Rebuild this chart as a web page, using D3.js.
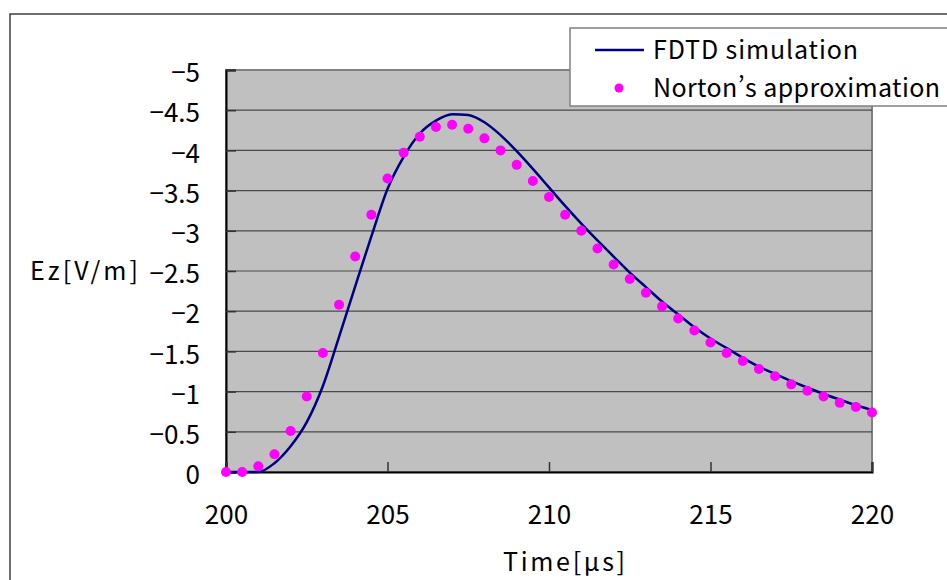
<!DOCTYPE html>
<html lang="ja">
<head>
<meta charset="UTF-8">
<script src="https://d3js.org/d3.v7.min.js"></script>
<title>Ez waveform</title>
<style>
  body { margin: 0; background: #fff; }
  text { font-family: "Noto Sans CJK JP", "Noto Sans", sans-serif; fill: #000; }
</style>
</head>
<body>
<script>
const width = 947, height = 580;

// time axis [µs]
const xTicks = [200, 205, 210, 215, 220];
const yTicks = [0, -0.5, -1, -1.5, -2, -2.5, -3, -3.5, -4, -4.5, -5];

// FDTD simulation (every 0.5 µs)
const fdtdTime = [200, 200.5, 201, 201.5, 202, 202.5, 203, 203.5, 204, 204.5,
  205, 205.5, 206, 206.5, 207, 207.5, 208, 208.5, 209, 209.5,
  210, 210.5, 211, 211.5, 212, 212.5, 213, 213.5, 214, 214.5,
  215, 215.5, 216, 216.5, 217, 217.5, 218, 218.5, 219, 219.5, 220];
const fdtdEz = [0, 0, 0, -0.11, -0.32, -0.62, -1.07, -1.68, -2.31, -2.93,
  -3.52, -3.92, -4.21, -4.37, -4.45, -4.44, -4.35, -4.19, -3.99, -3.77,
  -3.54, -3.31, -3.09, -2.88, -2.68, -2.48, -2.30, -2.12, -1.96, -1.80,
  -1.66, -1.54, -1.42, -1.31, -1.22, -1.13, -1.05, -0.97, -0.90, -0.83, -0.77];

// Norton's approximation
const nortonTime = fdtdTime;
const nortonEz = [0, 0, -0.07, -0.22, -0.51, -0.94, -1.48, -2.08, -2.68, -3.20,
  -3.65, -3.97, -4.17, -4.29, -4.32, -4.27, -4.15, -4.00, -3.82, -3.62,
  -3.42, -3.20, -3.00, -2.78, -2.58, -2.40, -2.23, -2.06, -1.91, -1.76,
  -1.61, -1.48, -1.38, -1.28, -1.19, -1.09, -1.01, -0.94, -0.86, -0.81, -0.74];

const seriesNames = ["FDTD simulation", "Norton\u2019s approximation"];

const plot = {left: 226, right: 872, top: 70, bottom: 472};

const svg = d3.select("body").append("svg")
    .attr("width", width).attr("height", height);

// outer chart frame
svg.append("rect")
    .attr("x", 10).attr("y", 14)
    .attr("width", width + 20).attr("height", height + 20)
    .attr("fill", "#fff").attr("stroke", "#404040").attr("stroke-width", 1.5);

const x = d3.scaleLinear().domain([200, 220]).range([plot.left, plot.right]);
const y = d3.scaleLinear().domain([0, -5]).range([plot.bottom, plot.top]);

// plot background
svg.append("rect")
    .attr("x", plot.left).attr("y", plot.top)
    .attr("width", plot.right - plot.left).attr("height", plot.bottom - plot.top)
    .attr("fill", "#c0c0c0").attr("stroke", "#808080").attr("stroke-width", 2);

// gridlines
svg.append("g").selectAll("line")
    .data(yTicks.filter(d => d !== 0 && d !== -5))
    .join("line")
    .attr("x1", plot.left).attr("x2", plot.right)
    .attr("y1", d => y(d)).attr("y2", d => y(d))
    .attr("stroke", "#4a4a4a").attr("stroke-width", 1.2);

const fmt = d => d3.format("")(d);

// y axis
const yAxis = svg.append("g")
    .attr("transform", `translate(${plot.left},0)`)
    .call(d3.axisLeft(y).tickValues(yTicks).tickSize(-10).tickPadding(26).tickFormat(fmt));
yAxis.select(".domain").attr("stroke", "#000").attr("stroke-width", 2);
yAxis.selectAll(".tick line").attr("stroke", "#333").attr("stroke-width", 1.5);
yAxis.selectAll(".tick text").attr("font-size", 26).attr("dy", "0.45em")
    .style("font-family", "'Noto Sans CJK JP', sans-serif");

// x axis
const xAxis = svg.append("g")
    .attr("transform", `translate(0,${plot.bottom})`)
    .call(d3.axisBottom(x).tickValues(xTicks).tickSize(-10).tickPadding(34).tickFormat(fmt));
xAxis.select(".domain").attr("stroke", "#000").attr("stroke-width", 2);
xAxis.selectAll(".tick line").attr("stroke", "#333").attr("stroke-width", 1.5);
xAxis.selectAll(".tick text").attr("font-size", 26)
    .style("font-family", "'Noto Sans CJK JP', sans-serif");

// FDTD line
const line = d3.line()
    .x((d, i) => x(fdtdTime[i]))
    .y(d => y(d))
    .curve(d3.curveMonotoneX);
svg.append("path")
    .datum(fdtdEz)
    .attr("d", line)
    .attr("fill", "none")
    .attr("stroke", "#000080")
    .attr("stroke-width", 2.5);

// Norton dots
svg.append("g").selectAll("circle")
    .data(nortonEz)
    .join("circle")
    .attr("cx", (d, i) => x(nortonTime[i]))
    .attr("cy", d => y(d))
    .attr("r", 5)
    .attr("fill", "#ff00ff");

// axis titles
svg.append("text")
    .attr("x", 30).attr("y", 280)
    .attr("font-size", 25)
    .attr("textLength", 108).attr("lengthAdjust", "spacing")
    .text("Ez[V/m]");

svg.append("text")
    .attr("x", 503).attr("y", 571)
    .attr("font-size", 25)
    .attr("textLength", 122).attr("lengthAdjust", "spacing")
    .text("Time[\u03bcs]");

// legend
const legend = svg.append("g");
legend.append("rect")
    .attr("x", 570).attr("y", 28)
    .attr("width", 400).attr("height", 78)
    .attr("fill", "#fff").attr("stroke", "#808080").attr("stroke-width", 1.5);
legend.append("line")
    .attr("x1", 595).attr("x2", 644)
    .attr("y1", 50).attr("y2", 50)
    .attr("stroke", "#000080").attr("stroke-width", 2.5);
legend.append("circle")
    .attr("cx", 619).attr("cy", 88).attr("r", 4.5)
    .attr("fill", "#ff00ff");
const legendWidths = [205, 287];
legend.selectAll("text.lbl")
    .data(seriesNames)
    .join("text")
    .attr("class", "lbl")
    .attr("x", 653)
    .attr("y", (d, i) => 59 + i * 38)
    .attr("font-size", 25)
    .attr("textLength", (d, i) => legendWidths[i]).attr("lengthAdjust", "spacing")
    .text(d => d);
</script>
</body>
</html>
